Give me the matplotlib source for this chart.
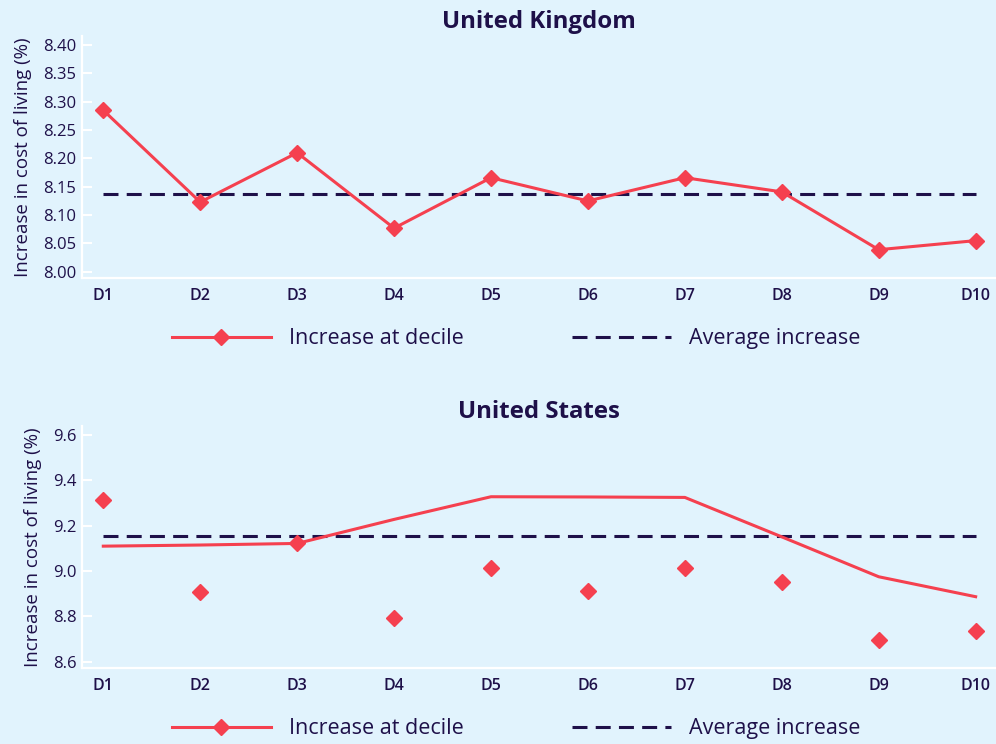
import matplotlib
matplotlib.use('Agg')
import matplotlib.pyplot as plt
from matplotlib.lines import Line2D

plt.rcParams['font.family'] = ['Open Sans', 'Noto Sans', 'DejaVu Sans']

# Datos
deciles = ['D1', 'D2', 'D3', 'D4', 'D5', 'D6', 'D7', 'D8', 'D9', 'D10']

uk_valores = [8.285, 8.123, 8.210, 8.077, 8.166, 8.125, 8.166, 8.141, 8.039, 8.055]
uk_media = 8.138
uk_yticks = [8.00, 8.05, 8.10, 8.15, 8.20, 8.25, 8.30, 8.35, 8.40]

# En el grafico de EE.UU. la linea y los marcadores no coinciden
us_linea = [9.110, 9.115, 9.122, 9.228, 9.328, 9.327, 9.325, 9.151, 8.975, 8.887]
us_marcadores = [9.313, 8.909, 9.122, 8.791, 9.012, 8.913, 9.012, 8.953, 8.698, 8.735]
us_media = 9.156
us_yticks = [8.6, 8.8, 9.0, 9.2, 9.4, 9.6]

fondo = '#e1f3fd'
rojo = '#f5404f'
oscuro = '#1e1049'
rayas = (4.9, 2.7)

fig = plt.figure(figsize=(9.96, 7.44), dpi=100, facecolor=fondo)


def dibuja_panel(ax, titulo, linea, marcadores, media, yticks, ylim, fmt):
    x = list(range(len(deciles)))
    ax.set_facecolor(fondo)
    ax.plot(x, linea, color=rojo, linewidth=2.2, zorder=3)
    ax.plot(x, marcadores, linestyle='none', marker='D', markersize=8.5,
            color=rojo, zorder=4)
    ax.plot(x, [media] * len(x), color=oscuro, linewidth=2.2,
            dashes=rayas, zorder=2)

    ax.set_xlim(-0.22, 9.21)
    ax.set_ylim(*ylim)
    ax.set_xticks(x)
    ax.set_xticklabels(deciles, fontsize=11.5, fontweight='semibold', color=oscuro)
    ax.set_yticks(yticks)
    ax.set_yticklabels([fmt.format(v) for v in yticks], fontsize=12, color=oscuro)
    ax.tick_params(axis='x', length=0, pad=7)
    ax.tick_params(axis='y', direction='in', length=7, width=1.5,
                   color='white', pad=4)
    for lado in ['top', 'right']:
        ax.spines[lado].set_visible(False)
    for lado in ['left', 'bottom']:
        ax.spines[lado].set_color('white')
        ax.spines[lado].set_linewidth(1.6)

    ax.set_ylabel('Increase in cost of living (%)', fontsize=13.5,
                  color=oscuro, labelpad=8)
    ax.set_title(titulo, fontsize=17.3, fontweight='bold', color=oscuro, pad=6)

    manejadores = [
        Line2D([], [], color=rojo, linewidth=2.2, marker='D', markersize=8.5),
        Line2D([], [], color=oscuro, linewidth=2.2, dashes=rayas),
    ]
    ax.legend(manejadores, ['Increase at decile', 'Average increase'],
              loc='center', bbox_to_anchor=(0.475, -0.25), ncol=2,
              frameon=False, fontsize=15.5, handlelength=4.6,
              handletextpad=0.85, columnspacing=5.0, labelcolor=oscuro)


ax_uk = fig.add_axes([0.0823, 0.6263, 0.9177, 0.3253])
dibuja_panel(ax_uk, 'United Kingdom', uk_valores, uk_valores, uk_media,
             uk_yticks, (7.989, 8.416), '{:.2f}')

ax_us = fig.add_axes([0.0823, 0.1017, 0.9177, 0.3257])
dibuja_panel(ax_us, 'United States', us_linea, us_marcadores, us_media,
             us_yticks, (8.571, 9.640), '{:.1f}')

fig.savefig('out.png', dpi=100, facecolor=fondo)
